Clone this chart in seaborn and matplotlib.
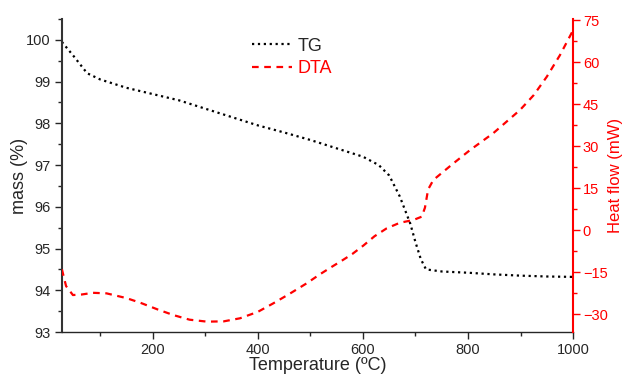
import matplotlib
matplotlib.use("Agg")
import matplotlib.pyplot as plt
import seaborn as sns
import pandas as pd
from matplotlib.ticker import MultipleLocator
from matplotlib.lines import Line2D

# TG curve (mass %)
tg_temp = [27, 50, 75, 100, 150, 200, 250, 300, 350, 400, 450, 500, 550, 600,
           630, 650, 670, 690, 700, 710, 720, 750, 800, 850, 900, 950, 1000]
tg_mass = [99.95, 99.6, 99.2, 99.05, 98.85, 98.7, 98.55, 98.35, 98.15, 97.95, 97.78,
           97.6, 97.4, 97.2, 97.0, 96.75, 96.25, 95.6, 95.15, 94.75, 94.5, 94.45,
           94.42, 94.38, 94.35, 94.33, 94.32]

# DTA curve (heat flow, mW)
dta_temp = [27, 35, 48, 65, 86, 112, 150, 177, 210, 240, 270, 303, 335, 366, 400,
            429, 460, 493, 518, 540, 560, 580, 601, 622, 645, 670, 696, 712, 718,
            724, 734, 770, 804, 848, 899, 925, 950, 975, 1000]
dta_flow = [-14, -20, -23.2, -23, -22.4, -22.6, -24.3, -26, -28.4, -30.4, -32, -32.7,
            -32.6, -31.5, -29.2, -26.2, -22.8, -19, -15.8, -13.2, -10.9, -8.5, -5.5,
            -2.2, 0.6, 2.6, 3.6, 4.8, 8, 14.5, 17.9, 23.5, 28.6, 34.6, 42.9, 48.2,
            54.8, 62.5, 71.4]

tg = pd.DataFrame({"temp": tg_temp, "mass": tg_mass})
dta = pd.DataFrame({"temp": dta_temp, "flow": dta_flow})

sns.set_style("ticks")
plt.rcParams["font.family"] = ["Liberation Sans", "DejaVu Sans"]

red = "#ff0000"
fig, ax = plt.subplots(figsize=(6.25, 3.79), dpi=100)
fig.subplots_adjust(left=0.099, right=0.917, top=0.95, bottom=0.124)

sns.lineplot(data=tg, x="temp", y="mass", ax=ax, color="black",
             linestyle=":", linewidth=1.6)
ax2 = ax.twinx()
sns.lineplot(data=dta, x="temp", y="flow", ax=ax2, color=red,
             linewidth=1.6, dashes=False)
ax2.lines[0].set_dashes([3, 2.5])

ax.set_xlim(27, 1000)
ax.set_ylim(93, 100.5)
ax2.set_ylim(-36.4, 75.4)

ax.xaxis.set_major_locator(MultipleLocator(200))
ax.xaxis.set_minor_locator(MultipleLocator(100))
ax.yaxis.set_major_locator(MultipleLocator(1))
ax.yaxis.set_minor_locator(MultipleLocator(0.5))
ax2.yaxis.set_major_locator(MultipleLocator(15))
ax2.yaxis.set_minor_locator(MultipleLocator(7.5))

ax.set_xlabel("Temperature (ºC)", fontsize=13, labelpad=0)
ax.set_ylabel("mass (%)", fontsize=13, labelpad=-1)
ax2.set_ylabel("Heat flow (mW)", fontsize=12, color=red, labelpad=0)

ax.tick_params(axis="both", which="major", labelsize=10.5, length=5, width=1,
               direction="out", pad=3)
ax.tick_params(axis="both", which="minor", length=3, width=1, direction="out")
ax2.tick_params(axis="y", which="major", labelsize=10.5, length=5, width=1,
                colors=red, direction="out", pad=2)
ax2.tick_params(axis="y", which="minor", length=3, width=1, colors=red, direction="out")

for a in (ax, ax2):
    a.spines["top"].set_visible(False)
ax.spines["right"].set_visible(False)
ax.spines["left"].set_color("#333333")
ax.spines["left"].set_linewidth(1.5)
ax.spines["bottom"].set_linewidth(1)
ax2.spines["left"].set_visible(False)
ax2.spines["bottom"].set_visible(False)
ax2.spines["right"].set_color(red)
ax2.spines["right"].set_linewidth(1.5)

handles = [Line2D([], [], color="black", linestyle=":", linewidth=1.6),
           Line2D([], [], color=red, linewidth=1.6, dashes=[3, 2.5])]
leg = ax.legend(handles, ["TG", "DTA"], loc="upper left",
                bbox_to_anchor=(0.372, 0.94), frameon=False, fontsize=13,
                borderpad=0, borderaxespad=0,
                handlelength=2.2, handletextpad=0.3, labelspacing=0.3)
leg.get_texts()[1].set_color(red)

fig.savefig("out.png", dpi=100)
